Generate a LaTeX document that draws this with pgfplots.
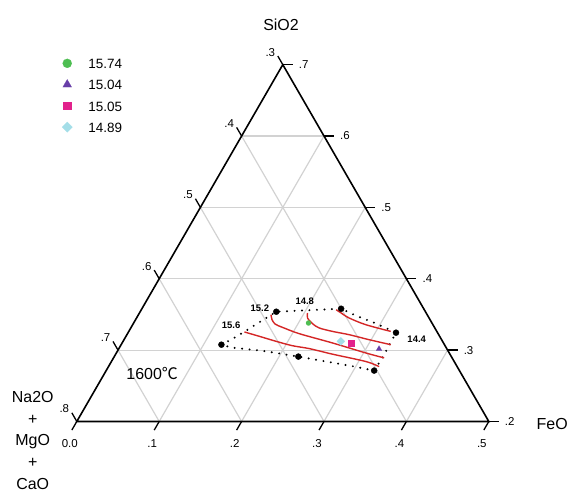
\documentclass[border=0pt]{standalone}
\usepackage{pgfplots}
\pgfplotsset{compat=1.18}
\usepackage{fontspec}
\setmainfont{Liberation Sans}
\newfontfamily\cjk{Noto Sans CJK SC}
\definecolor{gridgray}{RGB}{210,210,210}
\definecolor{curvered}{RGB}{212,38,38}
\definecolor{mgreen}{RGB}{78,190,82}
\definecolor{mpurple}{RGB}{104,62,168}
\definecolor{mmagenta}{RGB}{226,34,140}
\definecolor{mcyan}{RGB}{164,222,232}
\newcommand\tickfont{\fontsize{11.5}{13}\selectfont}
\newcommand\namefont{\fontsize{16}{21.7}\selectfont}
\pgfplotsset{table/tern/.style={/pgfplots/table/x expr=\thisrow{FeO}+(\thisrow{SiO2}-0.2)/2, /pgfplots/table/y expr=(\thisrow{SiO2}-0.2)*0.8660254}}
\pgfplotsset{legmark/.style={legend image code/.code={\draw[##1, mark size=#1] plot coordinates {(0pt,1.5pt)};}}}
\begin{document}
\begin{tikzpicture}
\begin{axis}[
  scale only axis, width=571pt, height=495pt,
  xmin=-0.09322, xmax=0.59806, ymin=-0.08777, ymax=0.51150,
  hide axis, clip=false,
  legend cell align=left,
  legend style={at={(axis cs:-0.0182,0.4420)}, anchor=north west, draw=none, fill=none, inner sep=0pt,
    font=\fontsize{13.5}{15}\selectfont, row sep=6.4pt,
    /tikz/every odd column/.append style={column sep=14pt}},
]
\path (rel axis cs:0,0) rectangle (rel axis cs:1,1);
% grid lines
\pgfplotsinvokeforeach{0.1,0.2,0.3,0.4}{
  \draw[gridgray, line width=1.2pt] (axis cs:#1/2,0.8660254*#1) -- (axis cs:0.5-#1/2,0.8660254*#1);
  \draw[gridgray, line width=1.2pt] (axis cs:#1,0) -- (axis cs:0.25+#1/2,0.4330127-0.8660254*#1);
  \draw[gridgray, line width=1.2pt] (axis cs:#1,0) -- (axis cs:#1/2,0.8660254*#1);
}
% frame
\draw[black, line width=1.6pt, line join=miter] (axis cs:0,0) -- (axis cs:0.5,0) -- (axis cs:0.25,0.4330127) -- cycle;
% ticks
\pgfplotsinvokeforeach{0,0.1,0.2,0.3,0.4,0.5}{
  \draw[black, line width=1.3pt] (axis cs:#1,0) -- ++(-5pt,-8.66pt);
  \draw[black, line width=1.3pt] (axis cs:0.5-#1/2,0.8660254*#1) -- ++(10pt,0pt);
  \draw[black, line width=1.3pt] (axis cs:#1/2,0.8660254*#1) -- ++(-5pt,8.66pt);
}
% bottom labels (FeO)
\node[font=\tickfont, xshift=-7pt, yshift=-22pt] at (axis cs:0,0) {0.0};
\node[font=\tickfont, xshift=-7pt, yshift=-22pt] at (axis cs:0.1,0) {.1};
\node[font=\tickfont, xshift=-7pt, yshift=-22pt] at (axis cs:0.2,0) {.2};
\node[font=\tickfont, xshift=-7pt, yshift=-22pt] at (axis cs:0.3,0) {.3};
\node[font=\tickfont, xshift=-7pt, yshift=-22pt] at (axis cs:0.4,0) {.4};
\node[font=\tickfont, xshift=-7pt, yshift=-22pt] at (axis cs:0.5,0) {.5};
% right labels (SiO2)
\node[font=\tickfont, xshift=21pt] at (axis cs:0.5,0) {.2};
\node[font=\tickfont, xshift=21pt] at (axis cs:0.45,0.0866025) {.3};
\node[font=\tickfont, xshift=21pt] at (axis cs:0.40,0.1732051) {.4};
\node[font=\tickfont, xshift=21pt] at (axis cs:0.35,0.2598076) {.5};
\node[font=\tickfont, xshift=21pt] at (axis cs:0.30,0.3464102) {.6};
\node[font=\tickfont, xshift=21pt] at (axis cs:0.25,0.4330127) {.7};
% left labels (Na2O+MgO+CaO)
\node[font=\tickfont, xshift=-12.5pt, yshift=12.5pt] at (axis cs:0,0) {.8};
\node[font=\tickfont, xshift=-12.5pt, yshift=12.5pt] at (axis cs:0.05,0.0866025) {.7};
\node[font=\tickfont, xshift=-12.5pt, yshift=12.5pt] at (axis cs:0.10,0.1732051) {.6};
\node[font=\tickfont, xshift=-12.5pt, yshift=12.5pt] at (axis cs:0.15,0.2598076) {.5};
\node[font=\tickfont, xshift=-12.5pt, yshift=12.5pt] at (axis cs:0.20,0.3464102) {.4};
\node[font=\tickfont, xshift=-12.5pt, yshift=12.5pt] at (axis cs:0.25,0.4330127) {.3};
% axis names
\node[font=\namefont] at (axis cs:0.2478,0.4815) {SiO2};
\node[font=\namefont] at (axis cs:0.5769,-0.0030) {FeO};
\node[font=\namefont, align=center] at (axis cs:-0.0535,-0.0230) {Na2O\\+\\MgO\\+\\CaO};
\node[font=\namefont, anchor=west] at (axis cs:0.0560,0.0587) {1600{\cjk ℃}};
% dotted boundary
\addplot[black, line width=2.2pt, line cap=round, dash pattern=on 0pt off 7.5pt, forget plot] table[tern] {
FeO SiO2
0.1217 0.3076
0.1343 0.3188
0.1467 0.3328
0.1551 0.3426
0.1652 0.3538
0.2418 0.3580
0.2665 0.3475
0.2916 0.3384
0.3252 0.3244
0.3256 0.3090
0.3263 0.2909
0.3252 0.2713
0.2953 0.2776
0.2687 0.2825
0.2234 0.2909
0.1744 0.2993
0.1360 0.3035
0.1217 0.3076
};
\addplot[only marks, mark=*, mark size=3pt, black, forget plot] table[tern] {
FeO SiO2
0.1217 0.3076
0.1652 0.3538
0.2418 0.3580
0.3252 0.3244
0.3252 0.2713
0.2234 0.2909
};
% isolines
\addplot[curvered, line width=1.4pt, smooth, forget plot] table[tern] {
FeO SiO2
0.2365 0.3566
0.2448 0.3520
0.2580 0.3450
0.2829 0.3356
0.3179 0.3262
};
\addplot[curvered, line width=1.4pt, smooth, forget plot] table[tern] {
FeO SiO2
0.2040 0.3520
0.2075 0.3450
0.2176 0.3370
0.2287 0.3310
0.2472 0.3262
0.2697 0.3216
0.2974 0.3146
0.3272 0.3076
};
\addplot[curvered, line width=1.4pt, smooth, forget plot] table[tern] {
FeO SiO2
0.1609 0.3496
0.1656 0.3426
0.1728 0.3363
0.1849 0.3314
0.2085 0.3230
0.2553 0.3100
0.3027 0.2960
0.3284 0.2891
};
\addplot[curvered, line width=1.4pt, smooth, forget plot] table[tern] {
FeO SiO2
0.1407 0.3254
0.1619 0.3193
0.1857 0.3123
0.2084 0.3062
0.2311 0.3021
0.2627 0.2944
0.3092 0.2839
0.3284 0.2769
};
\node[font=\fontsize{9.5}{11}\selectfont\bfseries] at (axis cs:0.2222,0.1378) {15.2};
\node[font=\fontsize{9.5}{11}\selectfont\bfseries] at (axis cs:0.1873,0.1166) {15.6};
\node[font=\fontsize{9.5}{11}\selectfont\bfseries] at (axis cs:0.2766,0.1461) {14.8};
\node[font=\fontsize{9.5}{11}\selectfont\bfseries] at (axis cs:0.4125,0.0999) {14.4};
% samples
\addplot[color=mgreen, only marks, mark=*, mark size=2.6pt, mark options={fill=mgreen, draw=mgreen, line width=0.1pt}, legmark=4.6pt] table[tern] {
FeO SiO2
0.2122 0.3380
};
\addlegendentry{15.74}
\addplot[color=mpurple, only marks, mark=triangle*, mark size=3.4pt, mark options={fill=mpurple, draw=mpurple, line width=0.1pt}, legmark=5.2pt] table[tern] {
FeO SiO2
0.3160 0.3016
};
\addlegendentry{15.04}
\addplot[color=mmagenta, only marks, mark=square*, mark size=3pt, mark options={fill=mmagenta, draw=mmagenta, line width=0.1pt}, legmark=3.7pt] table[tern] {
FeO SiO2
0.2783 0.3100
};
\addlegendentry{15.05}
\addplot[color=mcyan, only marks, mark=square*, mark size=2.9pt, mark options={fill=mcyan, draw=mcyan, line width=0.1pt, rotate=45}, legmark=3.7pt] table[tern] {
FeO SiO2
0.2644 0.3122
};
\addlegendentry{14.89}
\end{axis}
\end{tikzpicture}
\end{document}
